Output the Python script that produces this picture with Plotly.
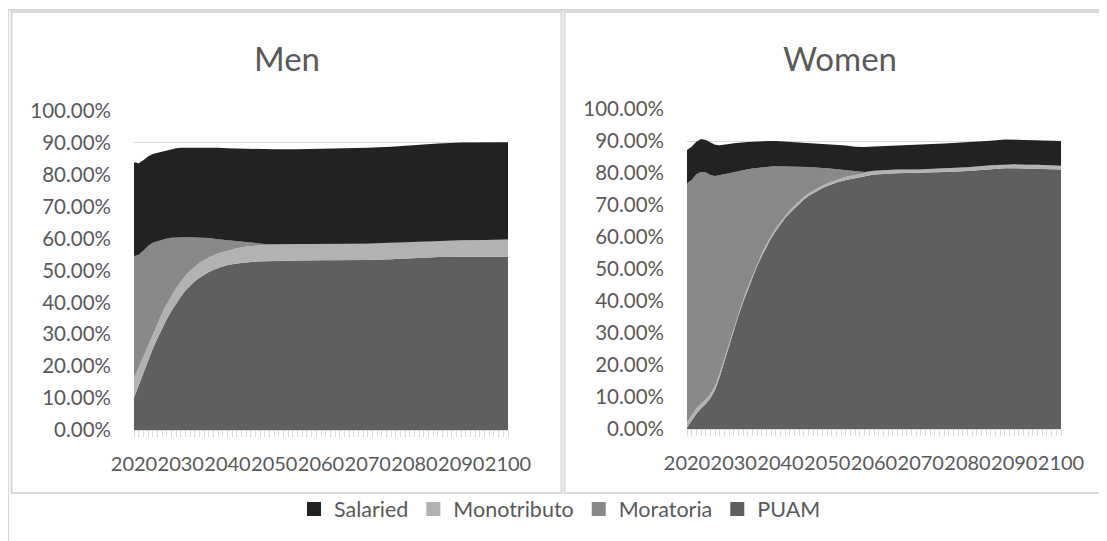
import plotly.graph_objects as go

# ---------------- data (percent) ----------------
YEARS_MEN = [2020, 2021, 2022, 2023, 2024, 2025, 2026, 2027, 2028, 2029, 2030,
             2031, 2032, 2033, 2034, 2035, 2036, 2038, 2040, 2042, 2044, 2046,
             2048, 2050, 2055, 2060, 2065, 2070, 2075, 2080, 2085, 2090, 2095, 2100]
MEN_PUAM = [10.2, 14.1, 18.0, 21.7, 25.4, 28.7, 31.8, 34.7, 37.3, 39.7, 41.8,
            43.7, 45.2, 46.6, 47.7, 48.7, 49.5, 50.8, 51.7, 52.2, 52.6, 52.8,
            52.9, 53.0, 53.1, 53.2, 53.2, 53.3, 53.5, 53.9, 54.2, 54.3, 54.3, 54.3]
MEN_MONOTRIBUTO = [6.0, 5.5, 5.0, 4.9, 4.7, 4.7, 4.8, 4.8, 4.8, 4.7, 4.7,
                   4.7, 4.7, 4.6, 4.7, 4.6, 4.6, 4.6, 4.6, 4.8, 4.9, 5.0,
                   5.1, 5.1, 5.1, 5.1, 5.2, 5.2, 5.3, 5.2, 5.2, 5.2, 5.3, 5.4]
MEN_MORATORIA = [38.3, 35.3, 33.2, 31.1, 28.6, 25.8, 23.0, 20.5, 18.2, 16.0, 13.9,
                 12.0, 10.5, 9.2, 8.0, 7.0, 6.1, 4.4, 3.2, 2.0, 1.2, 0.6,
                 0.3, 0.1, 0.0, 0.0, 0.0, 0.0, 0.0, 0.0, 0.0, 0.0, 0.0, 0.0]
MEN_SALARIED = [29.4, 28.7, 28.4, 28.0, 27.8, 27.7, 27.6, 27.6, 27.7, 27.9, 28.1,
                28.1, 28.1, 28.2, 28.3, 28.4, 28.4, 28.7, 28.8, 29.2, 29.4, 29.7,
                29.8, 29.8, 29.8, 29.8, 29.9, 30.0, 30.0, 30.3, 30.4, 30.6, 30.6, 30.5]

YEARS_WOMEN = [2020, 2021, 2022, 2023, 2024, 2025, 2026, 2027, 2028, 2029, 2030,
               2031, 2032, 2033, 2034, 2035, 2036, 2037, 2038, 2039, 2040,
               2041, 2042, 2043, 2044, 2045, 2046, 2047, 2048, 2049, 2050,
               2052, 2054, 2056, 2058, 2060, 2065, 2070, 2075, 2080, 2085,
               2088, 2090, 2093, 2095, 2100]
WOMEN_PUAM = [0.5, 2.8, 4.8, 6.4, 7.8, 9.6, 12.2, 16.3, 21.0, 26.2, 31.0,
              35.4, 39.6, 43.5, 47.2, 50.9, 54.0, 57.0, 59.6, 61.9, 64.0,
              65.9, 67.5, 69.0, 70.4, 71.7, 72.8, 73.7, 74.5, 75.3, 75.9,
              77.0, 77.8, 78.4, 78.9, 79.5, 79.9, 80.0, 80.3, 80.6, 81.2,
              81.5, 81.5, 81.4, 81.4, 81.1]
WOMEN_MONOTRIBUTO = [1.6, 1.6, 1.6, 1.5, 1.4, 1.3, 1.2, 1.1, 1.0, 0.9, 0.9,
                     0.8, 0.8, 0.8, 0.8, 0.8, 0.8, 0.8, 0.8, 0.8, 0.8,
                     0.8, 0.8, 0.8, 0.8, 0.8, 0.8, 0.8, 0.8, 0.8, 0.9,
                     0.9, 1.0, 1.0, 1.1, 1.2, 1.2, 1.2, 1.2, 1.2, 1.2,
                     1.2, 1.2, 1.2, 1.2, 1.2]
WOMEN_MORATORIA = [74.7, 73.4, 73.2, 72.4, 71.0, 68.5, 65.7, 61.9, 57.6, 52.8, 48.3,
                   44.4, 40.5, 36.9, 33.4, 29.9, 27.0, 24.1, 21.6, 19.4, 17.3,
                   15.4, 13.8, 12.2, 10.8, 9.4, 8.3, 7.3, 6.5, 5.5, 4.7,
                   3.3, 2.1, 1.1, 0.3, 0.0, 0.0, 0.0, 0.0, 0.0, 0.0,
                   0.0, 0.0, 0.0, 0.0, 0.0]
WOMEN_SALARIED = [10.4, 10.4, 10.2, 10.3, 10.1, 10.1, 9.7, 9.4, 9.4, 9.2, 9.1,
                  8.9, 8.7, 8.5, 8.4, 8.3, 8.1, 8.1, 8.0, 7.9, 7.8,
                  7.7, 7.7, 7.7, 7.6, 7.7, 7.6, 7.6, 7.5, 7.6, 7.6,
                  7.6, 7.7, 7.7, 7.8, 7.6, 7.6, 7.7, 7.7, 7.8, 7.7,
                  7.8, 7.7, 7.6, 7.7, 7.7]

SERIES_NAMES = ["PUAM", "Monotributo", "Moratoria", "Salaried"]  # stack order, bottom -> top
LEGEND_ORDER = ["Salaried", "Monotributo", "Moratoria", "PUAM"]
PANEL_TITLES = ["Men", "Women"]
X_TICK_START, X_TICK_END, X_TICK_STEP = 2020, 2100, 10

# ---------------- styling ----------------
COLORS = {"PUAM": "#5f5f5f", "Monotributo": "#b2b2b2",
          "Moratoria": "#898989", "Salaried": "#222222"}
FONT = "Lato, 'Open Sans', sans-serif"
TXT = "#595959"
GRID = "#d9d9d9"
PAGE_W, PAGE_H = 1107, 541
BODY_MARGIN = 8  # default page margin around the figure div
W, H = PAGE_W - BODY_MARGIN, PAGE_H - BODY_MARGIN


def px_x(p):
    return (p - BODY_MARGIN) / W


def px_y(p):
    return 1 - (p - BODY_MARGIN) / H


fig = go.Figure()

panels = [
    ("x", "y", YEARS_MEN, {"PUAM": MEN_PUAM, "Monotributo": MEN_MONOTRIBUTO,
                           "Moratoria": MEN_MORATORIA, "Salaried": MEN_SALARIED}),
    ("x2", "y2", YEARS_WOMEN, {"PUAM": WOMEN_PUAM, "Monotributo": WOMEN_MONOTRIBUTO,
                               "Moratoria": WOMEN_MORATORIA, "Salaried": WOMEN_SALARIED}),
]

for i, (xa, ya, years, data) in enumerate(panels):
    for name in SERIES_NAMES:
        fig.add_trace(go.Scatter(
            x=years, y=[v / 100 for v in data[name]],
            xaxis=xa, yaxis=ya, name=name,
            stackgroup="s%d" % i, mode="lines",
            line=dict(width=0, color=COLORS[name]),
            fillcolor=COLORS[name], showlegend=False,
            hoverinfo="x+y+name",
        ))

# legend entries
for rank, name in enumerate(LEGEND_ORDER):
    fig.add_trace(go.Scatter(
        x=[None], y=[None], mode="markers", name=name,
        marker=dict(symbol="square", size=14, color=COLORS[name]),
        showlegend=True, legendrank=rank + 1,
    ))

xaxis_common = dict(
    range=[X_TICK_START, X_TICK_END], tick0=X_TICK_START, dtick=X_TICK_STEP,
    showgrid=False, zeroline=False, showline=True, linecolor=GRID, linewidth=1,
    ticks="outside", ticklen=6, tickcolor=GRID, tickwidth=1, tickangle=0,
    minor=dict(dtick=1, tick0=X_TICK_START, ticks="outside", ticklen=6,
               tickcolor=GRID, tickwidth=1, showgrid=False),
    tickfont=dict(family=FONT, size=20, color=TXT),
    ticklabelstandoff=10, fixedrange=True, automargin=False,
)
yaxis_common = dict(
    range=[0, 1], dtick=0.1, tick0=0, tickformat=".2%",
    showgrid=True, gridcolor=GRID, gridwidth=1, zeroline=False,
    showline=False, ticks="",
    tickfont=dict(family=FONT, size=20.5, color=TXT),
    ticklabelstandoff=22, fixedrange=True, automargin=False,
)

fig.update_layout(
    template="none",
    width=W, height=H,
    margin=dict(l=0, r=0, t=0, b=0, pad=0, autoexpand=False),
    paper_bgcolor="white", plot_bgcolor="white",
    font=dict(family=FONT, color=TXT),
    xaxis=dict(domain=[px_x(134), px_x(508)], anchor="y", **xaxis_common),
    yaxis=dict(domain=[px_y(430), px_y(111)], anchor="x", **yaxis_common),
    xaxis2=dict(domain=[px_x(687), px_x(1061)], anchor="y2", **xaxis_common),
    yaxis2=dict(domain=[px_y(429), px_y(109)], anchor="x2", **yaxis_common),
    legend=dict(orientation="h", x=px_x(560), xanchor="center",
                y=px_y(509), yanchor="middle",
                font=dict(family=FONT, size=21.5, color=TXT),
                itemwidth=30, traceorder="normal", bgcolor="rgba(0,0,0,0)"),
    showlegend=True,
)

# panel titles
for title, cx in zip(PANEL_TITLES, [286.5, 839.5]):
    fig.add_annotation(text=title, xref="paper", yref="paper",
                       x=px_x(cx), y=px_y(58), xanchor="center", yanchor="middle",
                       showarrow=False, font=dict(family=FONT, size=33, color=TXT))

# frames (decoration)
border = dict(color=GRID, width=2)
fig.add_shape(type="line", xref="paper", yref="paper",
              x0=px_x(8), x1=px_x(1107), y0=px_y(10), y1=px_y(10), line=border)
fig.add_shape(type="line", xref="paper", yref="paper",
              x0=px_x(8), x1=px_x(8), y0=px_y(10), y1=px_y(541), line=border)
fig.add_shape(type="rect", xref="paper", yref="paper",
              x0=px_x(11.5), x1=px_x(561.5), y0=px_y(12), y1=px_y(493), line=border)
fig.add_shape(type="rect", xref="paper", yref="paper",
              x0=px_x(564.5), x1=px_x(1116), y0=px_y(12), y1=px_y(493), line=border)

fig.write_html("out.html")
